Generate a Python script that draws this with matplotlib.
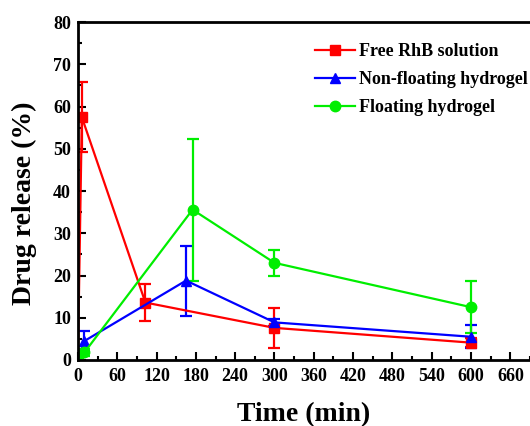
import matplotlib
matplotlib.use('Agg')
import matplotlib.pyplot as plt
from matplotlib.lines import Line2D
from matplotlib.ticker import MultipleLocator

# Data
free_t = [0, 6, 103, 300, 600]
free_y = [0, 57.5, 13.6, 7.6, 4.1]
free_err = [0, 8.3, 4.4, 4.8, 1.0]

nonf_t = [0, 10, 165, 300, 600]
nonf_y = [0, 4.5, 18.8, 8.9, 5.5]
nonf_err = [0, 2.4, 8.3, 0.8, 2.7]

flo_t = [0, 10, 175, 300, 600]
flo_y = [0, 1.8, 35.6, 23.0, 12.5]
flo_err = [0, 0.8, 16.8, 3.0, 6.1]

labels = ['Free RhB solution', 'Non-floating hydrogel', 'Floating hydrogel']
x_ticks = list(range(0, 661, 60))

plt.rcParams['font.family'] = 'Liberation Serif'
plt.rcParams['font.weight'] = 'bold'

fig = plt.figure(figsize=(5.3, 4.26), dpi=100)
ax = fig.add_axes([0.147, 0.155, 0.853, 0.793])

style = dict(lw=1.6, elinewidth=1.6, capsize=4.5, capthick=1.6, markersize=7.5)
series = [(free_t, free_y, free_err, 'red', 's'),
          (nonf_t, nonf_y, nonf_err, 'blue', '^'),
          (flo_t, flo_y, flo_err, '#00ee00', 'o')]
handles = []
for (t, y, e, c, m), lab in zip(series, labels):
    ax.errorbar(t, y, yerr=e, color=c, marker=m, **style)
    handles.append(Line2D([], [], color=c, marker=m, lw=1.6, markersize=7.5, label=lab))

ax.set_xlim(0, 690)
ax.set_ylim(0, 80)
ax.set_xticks(x_ticks)
ax.xaxis.set_minor_locator(MultipleLocator(30))
ax.yaxis.set_major_locator(MultipleLocator(10))
ax.yaxis.set_minor_locator(MultipleLocator(5))
ax.tick_params(which='both', direction='in', width=1.5, labelsize=13)
ax.tick_params(which='major', length=6)
ax.tick_params(which='minor', length=3)
ax.tick_params(axis='x', pad=6)
ax.tick_params(axis='y', pad=5)
for s in ax.spines.values():
    s.set_linewidth(2)
ax.spines['right'].set_visible(False)

ax.set_xlabel('Time (min)', fontsize=20, fontweight='bold', labelpad=12)
ax.set_ylabel('Drug release (%)', fontsize=20, fontweight='bold')
ax.yaxis.set_label_coords(-0.09, 0.464)

ax.legend(handles=handles, loc='upper left', bbox_to_anchor=(0.488, 0.985),
          frameon=False, handlelength=2.2, labelspacing=0.6,
          handletextpad=0.25, prop={'weight': 'bold', 'size': 13})

fig.savefig('out.png', dpi=100)
